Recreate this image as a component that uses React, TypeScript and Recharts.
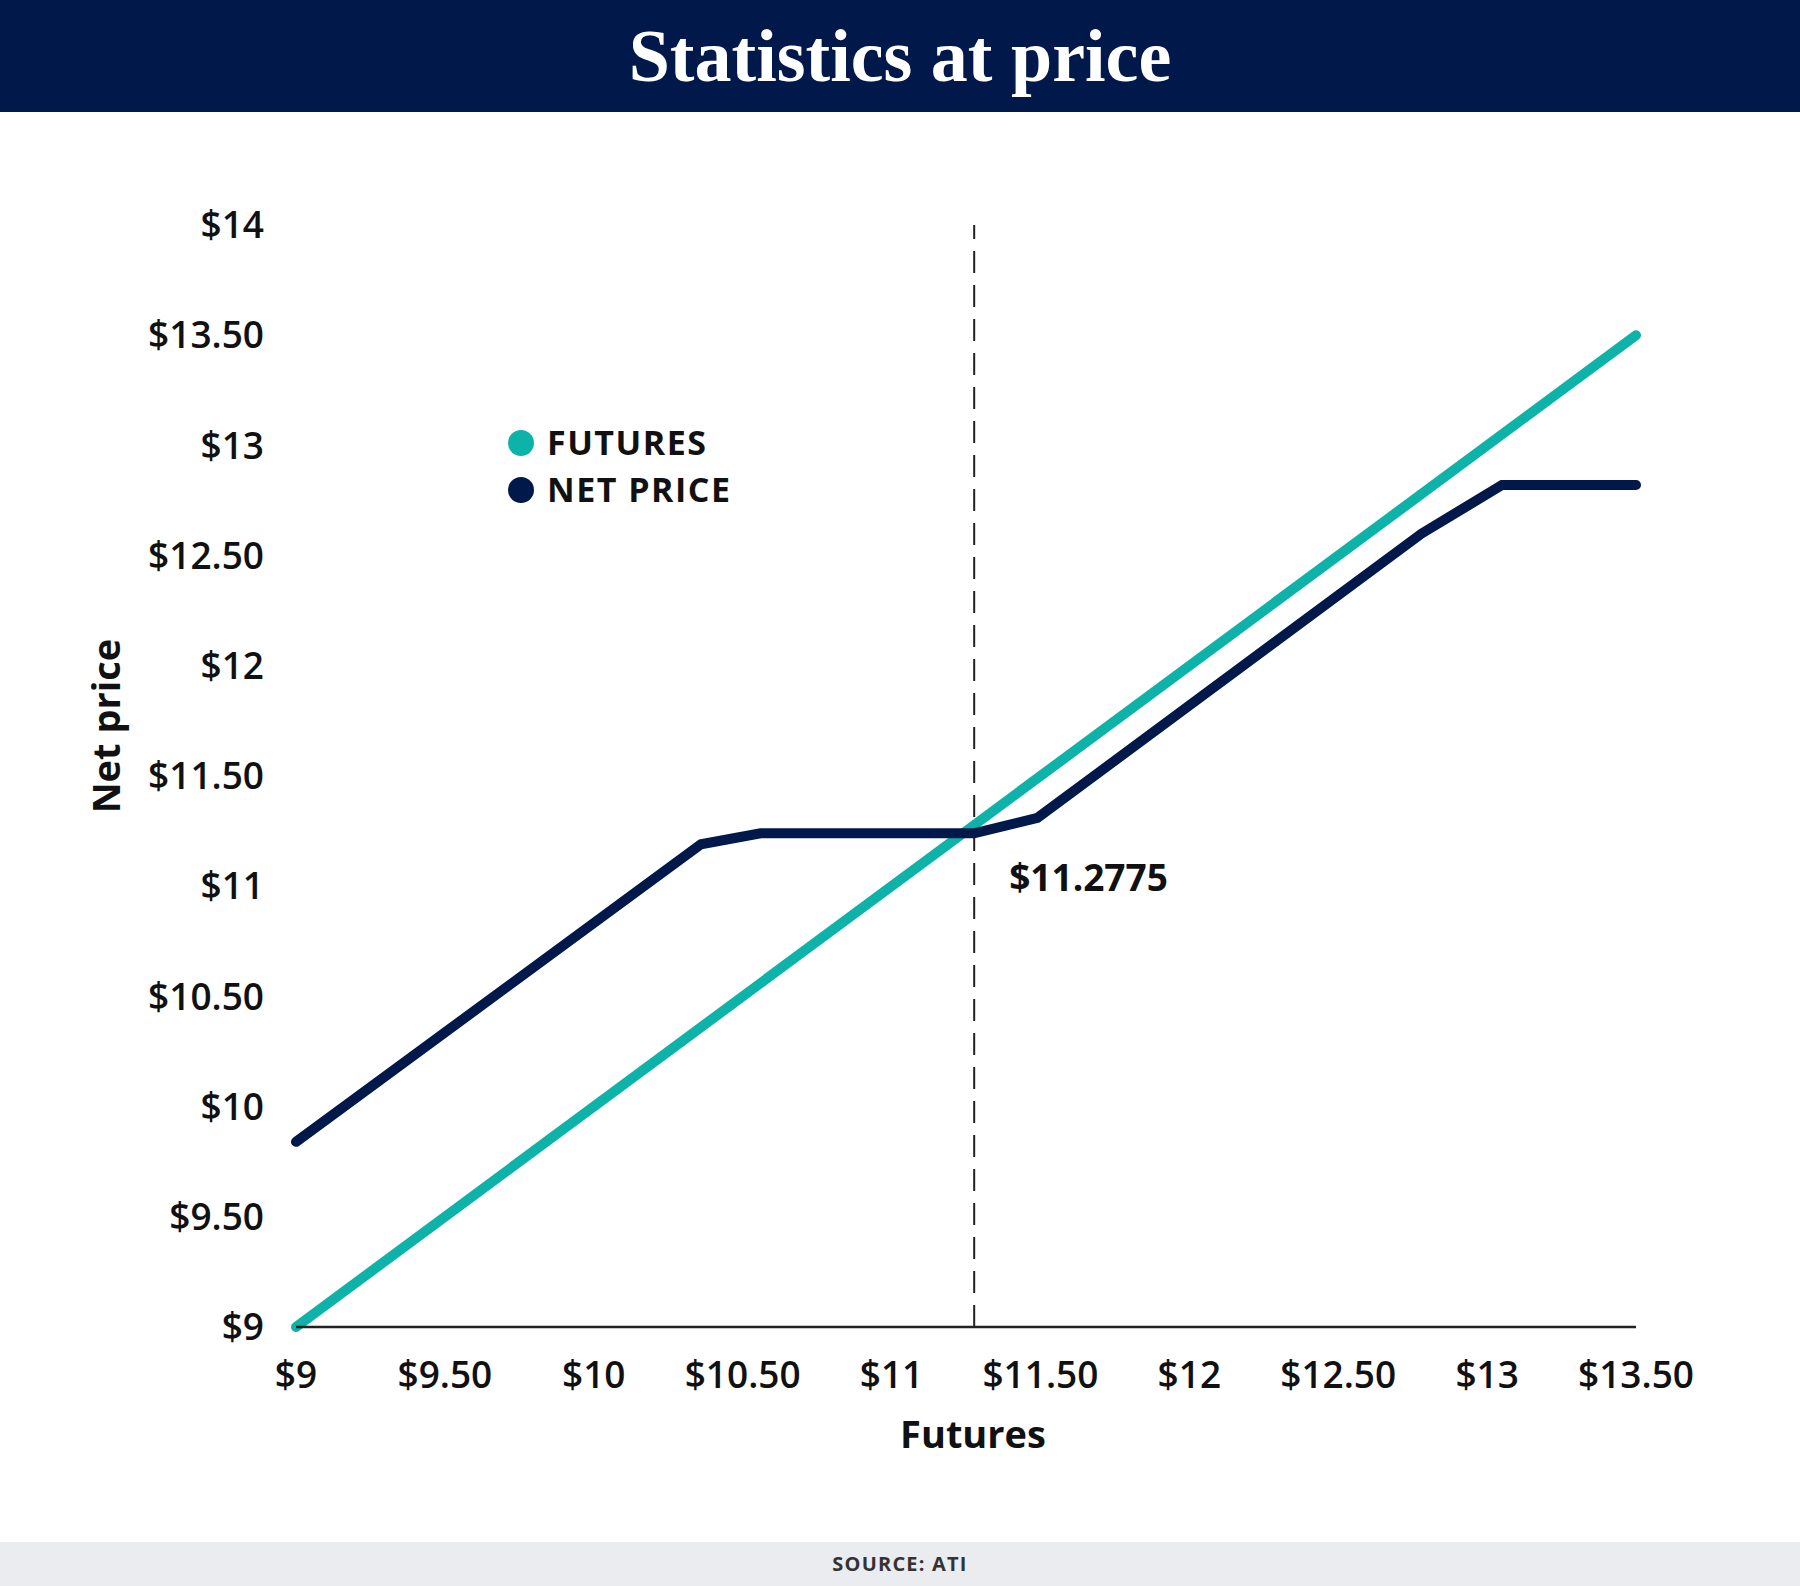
import React from 'react';
import {
  LineChart,
  Line,
  XAxis,
  YAxis,
  ReferenceLine,
  ReferenceDot,
  Legend,
} from 'recharts';

// ---- data ----
const futuresX = [9, 13.5];
const futuresY = [9, 13.5];

const netX = [9, 10.36, 10.56, 11.2775, 11.49, 12.78, 13.05, 13.5];
const netY = [9.84, 11.19, 11.24, 11.24, 11.31, 12.6, 12.82, 12.82];

const xTicks = [9, 9.5, 10, 10.5, 11, 11.5, 12, 12.5, 13, 13.5];
const yTicks = [9, 9.5, 10, 10.5, 11, 11.5, 12, 12.5, 13, 13.5, 14];

const breakEven = 11.2775;
const breakEvenLabelY = 11.04;

const seriesNames = ['FUTURES', 'NET PRICE'];

const TITLE = 'Statistics at price';
const SOURCE = 'SOURCE: ATI';

// ---- styles ----
const NAVY = '#01184A';
const TEAL = '#0DB2A9';
const INK = '#111111';
const FONT = "'Open Sans', 'Noto Sans', sans-serif";

const futuresData = futuresX.map((x, i) => ({ x, y: futuresY[i] }));
const netData = netX.map((x, i) => ({ x, y: netY[i] }));

const fmt = (v: number) => (Number.isInteger(v) ? `$${v}` : `$${v.toFixed(2)}`);

const renderLegend = (props: any) => {
  const payload = props.payload || [];
  return (
    <div style={{ fontFamily: FONT }}>
      {payload.map((p: any, i: number) => (
        <div
          key={i}
          style={{
            display: 'flex',
            alignItems: 'center',
            height: 47,
            lineHeight: '47px',
            fontSize: 34,
            fontWeight: 700,
            color: INK,
            whiteSpace: 'nowrap',
            letterSpacing: 1.5,
          }}
        >
          <span
            style={{
              display: 'inline-block',
              width: 26,
              height: 26,
              borderRadius: 13,
              background: p.color,
              marginRight: 13,
            }}
          />
          {p.value}
        </div>
      ))}
    </div>
  );
};

const YTitle = (props: any) => {
  const vb = props.viewBox || { x: 0, y: 0, width: 0, height: 0 };
  const cx = vb.x + 9;
  const cy = vb.y + vb.height / 2 - 50;
  return (
    <text
      x={cx}
      y={cy}
      transform={`rotate(-90 ${cx} ${cy})`}
      textAnchor="middle"
      dominantBaseline="central"
      fontFamily={FONT}
      fontSize={38}
      fontWeight={700}
      fill={INK}
    >
      Net price
    </text>
  );
};

export default function App() {
  return (
    <div
      style={{
        position: 'absolute',
        left: 0,
        top: 0,
        width: 1800,
        height: 1586,
        background: '#ffffff',
        overflow: 'hidden',
      }}
    >
      <div
        style={{
          position: 'absolute',
          left: 0,
          top: 0,
          width: 1800,
          height: 112,
          background: NAVY,
          color: '#ffffff',
          textAlign: 'center',
          lineHeight: '112px',
          fontFamily: "'Liberation Serif', 'DejaVu Serif', serif",
          fontWeight: 700,
          fontSize: 74,
        }}
      >
        {TITLE}
      </div>

      <div
        style={{
          position: 'absolute',
          left: 0,
          top: 1542,
          width: 1800,
          height: 44,
          background: '#EBECF0',
          color: '#333333',
          textAlign: 'center',
          lineHeight: '44px',
          fontFamily: FONT,
          fontWeight: 700,
          fontSize: 20,
          letterSpacing: 1.2,
        }}
      >
        {SOURCE}
      </div>

      <div style={{ position: 'absolute', left: 0, top: 0 }}>
        <LineChart
          width={1800}
          height={1586}
          margin={{ top: 225, right: 164, bottom: 129, left: 96 }}
        >
          <XAxis
            type="number"
            dataKey="x"
            domain={[9, 13.5]}
            ticks={xTicks}
            tickFormatter={fmt}
            height={130}
            tickLine={false}
            tickSize={0}
            tickMargin={35}
            axisLine={{ stroke: '#222222', strokeWidth: 2.5 }}
            tick={{ fill: INK, fontFamily: FONT, fontSize: 37, fontWeight: 600 }}
            interval={0}
            label={{
              value: 'Futures',
              position: 'insideBottom',
              offset: 9,
              dx: 7,
              fill: INK,
              fontFamily: FONT,
              fontSize: 38,
              fontWeight: 700,
            }}
          />
          <YAxis
            type="number"
            dataKey="y"
            domain={[9, 14]}
            ticks={yTicks}
            tickFormatter={fmt}
            width={200}
            axisLine={false}
            tickLine={false}
            tickSize={0}
            tickMargin={32}
            tick={{ fill: INK, fontFamily: FONT, fontSize: 37, fontWeight: 600 }}
            interval={0}
            label={<YTitle />}
          />
          <ReferenceLine
            x={breakEven}
            stroke="#222222"
            strokeWidth={2}
            strokeDasharray="22 12"
          />
          <Line
            data={futuresData}
            dataKey="y"
            name={seriesNames[0]}
            stroke={TEAL}
            strokeWidth={10}
            strokeLinecap="round"
            style={{ strokeLinecap: 'round' }}
            dot={false}
            activeDot={false}
            type="linear"
            isAnimationActive={false}
          />
          <Line
            data={netData}
            dataKey="y"
            name={seriesNames[1]}
            stroke={NAVY}
            strokeWidth={10}
            strokeLinecap="round"
            style={{ strokeLinecap: 'round' }}
            dot={false}
            activeDot={false}
            type="linear"
            isAnimationActive={false}
          />
          <ReferenceDot
            x={breakEven}
            y={breakEvenLabelY}
            r={1}
            fill="none"
            stroke="none"
            label={{
              value: `$${breakEven}`,
              position: 'right',
              offset: 34,
              fill: INK,
              fontFamily: FONT,
              fontSize: 37,
              fontWeight: 700,
            }}
          />
          <Legend
            layout="vertical"
            align="center"
            verticalAlign="middle"
            content={renderLegend}
            wrapperStyle={{ left: 508, top: 419, width: 'auto', height: 'auto' }}
          />
        </LineChart>
      </div>
    </div>
  );
}
